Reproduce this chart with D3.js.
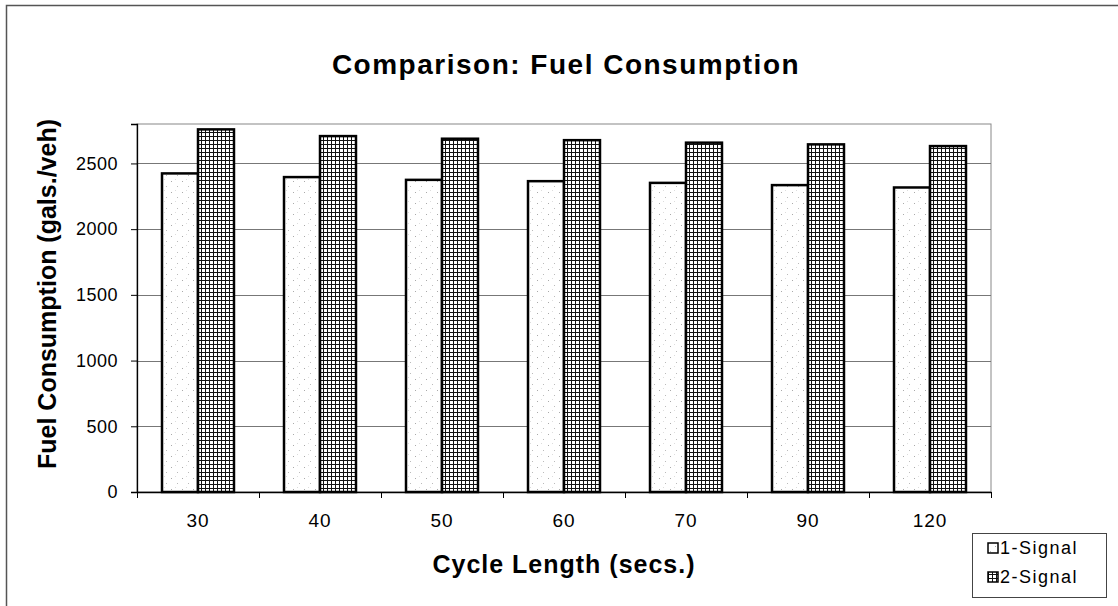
<!DOCTYPE html>
<html>
<head>
<meta charset="utf-8">
<script src="https://cdn.jsdelivr.net/npm/d3@7"></script>
<style>
  body { margin: 0; background: #fff; }
  text { font-family: "Liberation Sans", Arial, sans-serif; fill: #000; }
</style>
</head>
<body>
<div id="chart"></div>
<script>
// data
var cycleLengths = ["30", "40", "50", "60", "70", "90", "120"];
var seriesNames = ["1-Signal", "2-Signal"];
var oneSignal = [2424, 2396, 2375, 2365, 2352, 2335, 2317];
var twoSignal = [2759, 2708, 2688, 2677, 2658, 2645, 2632];
var yTicks = [0, 500, 1000, 1500, 2000, 2500];

var width = 1118, height = 606;
var margin = { left: 137, right: 127, top: 124, bottom: 114 };
var plotW = width - margin.left - margin.right,
    plotH = height - margin.top - margin.bottom;

var svg = d3.select("#chart").append("svg")
    .attr("width", width)
    .attr("height", height);

// patterns
var defs = svg.append("defs");
var dots = defs.append("pattern")
    .attr("id", "dots")
    .attr("patternUnits", "userSpaceOnUse")
    .attr("width", 11).attr("height", 11);
dots.append("rect").attr("width", 11).attr("height", 11).attr("fill", "#fff");
dots.append("rect").attr("x", 1).attr("y", 2).attr("width", 1).attr("height", 1).attr("fill", "#aaa");
dots.append("rect").attr("x", 7).attr("y", 7).attr("width", 1).attr("height", 1).attr("fill", "#bbb");
dots.append("rect").attr("x", 5).attr("y", 0).attr("width", 1).attr("height", 1).attr("fill", "#ddd");

var grid = defs.append("pattern")
    .attr("id", "grid")
    .attr("patternUnits", "userSpaceOnUse")
    .attr("width", 4).attr("height", 4);
grid.append("rect").attr("width", 4).attr("height", 4).attr("fill", "#fff");
grid.append("rect").attr("x", 0).attr("y", 0).attr("width", 1).attr("height", 4).attr("fill", "#111");
grid.append("rect").attr("x", 0).attr("y", 0).attr("width", 4).attr("height", 1).attr("fill", "#111");

var fills = { "1-Signal": "url(#dots)", "2-Signal": "url(#grid)" };

// outer chart frame
svg.append("rect")
    .attr("x", 6.5).attr("y", 5.5)
    .attr("width", width + 10).attr("height", height + 10)
    .attr("fill", "none").attr("stroke", "#555").attr("stroke-width", 1.5);

var g = svg.append("g")
    .attr("transform", "translate(" + margin.left + "," + margin.top + ")");

// scales
var x0 = d3.scaleBand().domain(cycleLengths).range([0, plotW]).padding(0);
var x1 = d3.scaleBand().domain(seriesNames)
    .range([x0.bandwidth() * 0.205, x0.bandwidth() * 0.795]);
var y = d3.scaleLinear().domain([0, 2800]).range([plotH, 0]);

// plot border
g.append("rect")
    .attr("x", 0).attr("y", 0).attr("width", plotW).attr("height", plotH)
    .attr("fill", "none").attr("stroke", "#888").attr("stroke-width", 1);

// gridlines
g.selectAll(".gridline")
    .data(yTicks.filter(function(d) { return d > 0; }))
    .enter().append("line")
    .attr("class", "gridline")
    .attr("x1", 0).attr("x2", plotW)
    .attr("y1", function(d) { return Math.round(y(d)) + 0.5; })
    .attr("y2", function(d) { return Math.round(y(d)) + 0.5; })
    .attr("stroke", "#777").attr("stroke-width", 1);

// bars
var rows = cycleLengths.map(function(c, i) {
    return { cat: c, values: [
        { name: "1-Signal", value: oneSignal[i] },
        { name: "2-Signal", value: twoSignal[i] }
    ] };
});

var groups = g.selectAll(".group")
    .data(rows)
    .enter().append("g")
    .attr("class", "group")
    .attr("transform", function(d) { return "translate(" + x0(d.cat) + ",0)"; });

groups.selectAll("rect")
    .data(function(d) { return d.values; })
    .enter().append("rect")
    .attr("x", function(d) { return x1(d.name); })
    .attr("y", function(d) { return y(d.value); })
    .attr("width", x1.bandwidth())
    .attr("height", function(d) { return plotH - y(d.value); })
    .attr("fill", function(d) { return fills[d.name]; })
    .attr("stroke", "#000")
    .attr("stroke-width", 2.5);

// axes
var yAxis = d3.axisLeft(y).tickValues(yTicks).tickFormat(d3.format("d"))
    .tickSize(6).tickPadding(13);
var yAxisGroup = g.append("g").call(yAxis)
    .attr("font-size", 18)
    .attr("font-family", "Liberation Sans, Arial, sans-serif");
yAxisGroup.select(".domain").attr("stroke", "#000").attr("stroke-width", 1.3);
yAxisGroup.selectAll(".tick line").attr("stroke", "#000");
yAxisGroup.selectAll("text")
    .style("font-size", "18px")
    .style("letter-spacing", "0.5px");

var xAxis = d3.axisBottom(x0).tickSize(0).tickPadding(22);
var xAxisGroup = g.append("g")
    .attr("transform", "translate(0," + plotH + ")")
    .call(xAxis)
    .attr("font-size", 19)
    .attr("font-family", "Liberation Sans, Arial, sans-serif");
xAxisGroup.select(".domain").attr("stroke", "#000").attr("stroke-width", 1.3);
xAxisGroup.selectAll("text")
    .style("font-size", "19px")
    .style("letter-spacing", "1px");

// tick marks between categories
g.selectAll(".xtick")
    .data(cycleLengths.concat(["end"]))
    .enter().append("line")
    .attr("class", "xtick")
    .attr("x1", function(d, i) { return i * x0.step() + 0.5; })
    .attr("x2", function(d, i) { return i * x0.step() + 0.5; })
    .attr("y1", plotH).attr("y2", plotH + 6)
    .attr("stroke", "#000");

// titles
svg.append("text")
    .attr("x", 566).attr("y", 74)
    .attr("text-anchor", "middle")
    .style("font-size", "28px").style("font-weight", "bold")
    .style("letter-spacing", "1.5px")
    .text("Comparison: Fuel Consumption");

svg.append("text")
    .attr("x", 564).attr("y", 573)
    .attr("text-anchor", "middle")
    .style("font-size", "25px").style("font-weight", "bold")
    .style("letter-spacing", "1px")
    .text("Cycle Length (secs.)");

svg.append("text")
    .attr("transform", "translate(56,294) rotate(-90)")
    .attr("text-anchor", "middle")
    .style("font-size", "25px").style("font-weight", "bold")
    .text("Fuel Consumption (gals./veh)");

// legend
var legend = svg.append("g").attr("transform", "translate(972,533)");
legend.append("rect")
    .attr("x", 0.5).attr("y", 0.5).attr("width", 134).attr("height", 64)
    .attr("fill", "#fff").attr("stroke", "#444").attr("stroke-width", 1);

var items = legend.selectAll(".item")
    .data(seriesNames)
    .enter().append("g")
    .attr("class", "item")
    .attr("transform", function(d, i) { return "translate(0," + (i * 29) + ")"; });

items.append("rect")
    .attr("x", 16).attr("y", 10).attr("width", 10).attr("height", 10)
    .attr("fill", function(d) { return fills[d]; })
    .attr("stroke", "#000").attr("stroke-width", 1.5);

items.append("text")
    .attr("x", 28).attr("y", 21)
    .style("font-size", "18px")
    .style("letter-spacing", "1.5px")
    .text(function(d) { return d; });
</script>
</body>
</html>
